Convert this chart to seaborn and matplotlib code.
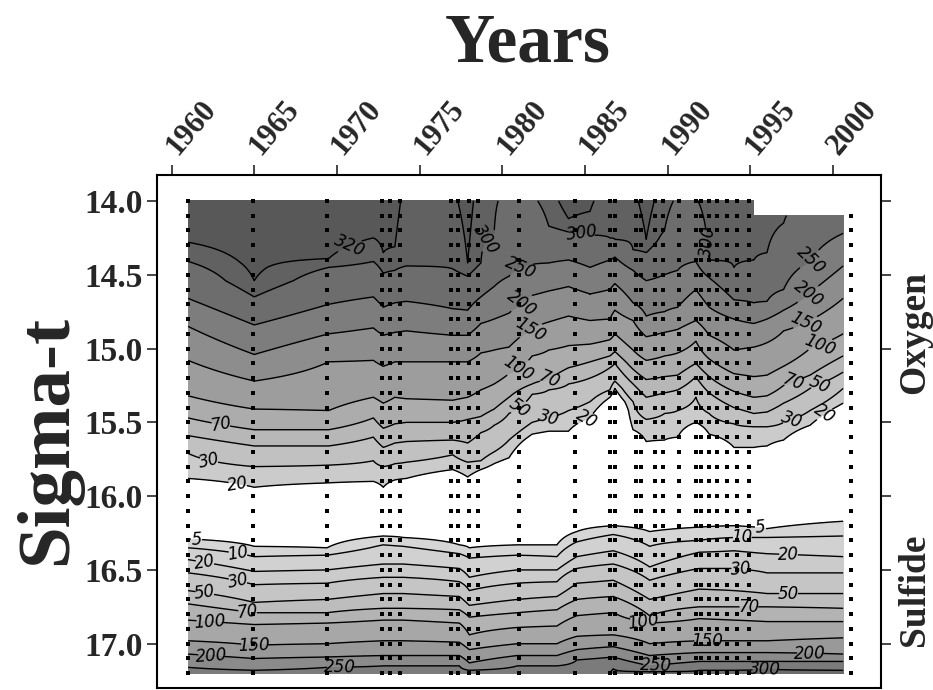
import numpy as np
import pandas as pd
import matplotlib
matplotlib.use("Agg")
import matplotlib.pyplot as plt
import seaborn as sns

nan = np.nan

# ---------------- Oxygen isolines: sigma-t depth of each isoline per year node ----------------
oxy_years = [1961.0, 1965.0, 1969.5, 1972.2, 1972.8, 1973.5, 1974.2, 1977.0, 1977.9, 1978.7,
             1979.5, 1980.4, 1981.8, 1982.8, 1984.0, 1985.3, 1986.5, 1986.8, 1987.9, 1988.7,
             1989.8, 1990.6, 1991.7, 1992.5, 1994.0, 1995.2, 1996.0, 1997.0, 1998.6, 2000.6]
oxy_top_value = [345, 345, 345, 340, 335, 328, 312, 316, 328, 310,
                 303, 292, 295, 310, 330, 322, 312, 312, 315, 328,
                 310, 295, 297, 316, 318, 318, 315, 305, 298, 285]
oxy_top_edge = [14.0] * 26 + [14.1] * 4
oxy_320 = [14.28, 14.54, 14.39, 14.25, 14.35, 14.31, nan, nan, 14.42, nan,
           nan, nan, nan, nan, 14.12, 14.07, nan, nan, nan, 14.26,
           nan, nan, nan, nan, nan, nan, nan, nan, nan, nan]
oxy_300 = [14.41, 14.65, 14.45, 14.41, 14.49, 14.47, 14.44, 14.46, 14.51, 14.42,
           14.22, nan, nan, 14.17, 14.21, 14.23, 14.25, 14.26, 14.33, 14.35,
           14.20, nan, nan, 14.40, 14.45, 14.40, 14.35, 14.15, nan, nan]
oxy_250 = [14.66, 14.84, 14.70, 14.65, 14.72, 14.69, 14.68, 14.73, 14.74, 14.65,
           14.58, 14.51, 14.43, 14.42, 14.40, 14.45, 14.40, 14.38, 14.47, 14.54,
           14.50, 14.47, 14.41, 14.52, 14.67, 14.69, 14.68, 14.60, 14.41, 14.22]
oxy_200 = [14.85, 15.04, 14.90, 14.86, 14.91, 14.89, 14.88, 14.91, 14.91, 14.83,
           14.80, 14.76, 14.64, 14.61, 14.58, 14.63, 14.60, 14.56, 14.69, 14.78,
           14.75, 14.72, 14.60, 14.72, 14.80, 14.83, 14.80, 14.74, 14.62, 14.44]
oxy_150 = [15.08, 15.22, 15.09, 15.08, 15.12, 15.09, 15.09, 15.09, 15.09, 15.03,
           15.01, 14.99, 14.86, 14.82, 14.78, 14.81, 14.80, 14.74, 14.81, 14.92,
           14.89, 14.87, 14.81, 14.91, 15.01, 14.99, 14.96, 14.88, 14.81, 14.66]
oxy_100 = [15.32, 15.41, 15.42, 15.33, 15.37, 15.33, 15.34, 15.35, 15.33, 15.28,
           15.24, 15.17, 15.05, 15.01, 14.98, 14.97, 14.94, 14.90, 15.01, 15.08,
           15.05, 15.03, 14.95, 15.07, 15.17, 15.19, 15.18, 15.12, 15.00, 14.90]
oxy_70 = [15.47, 15.55, 15.55, 15.47, 15.54, 15.51, 15.50, 15.50, 15.48, 15.46,
          15.41, 15.33, 15.24, 15.21, 15.13, 15.09, 15.05, 15.02, 15.14, 15.21,
          15.19, 15.18, 15.10, 15.19, 15.29, 15.33, 15.32, 15.25, 15.18, 15.05]
oxy_50 = [15.59, 15.66, 15.66, 15.60, 15.67, 15.64, 15.63, 15.62, 15.64, 15.57,
          15.52, 15.44, 15.31, 15.28, 15.24, 15.20, 15.13, 15.10, 15.24, 15.33,
          15.30, 15.28, 15.19, 15.30, 15.40, 15.44, 15.43, 15.37, 15.27, 15.16]
oxy_30 = [15.71, 15.80, 15.79, 15.76, 15.80, 15.78, 15.77, 15.72, 15.77, 15.76,
          15.70, 15.62, 15.50, 15.47, 15.42, 15.36, 15.28, 15.22, 15.36, 15.48,
          15.44, 15.42, 15.33, 15.44, 15.51, 15.53, 15.53, 15.50, 15.42, 15.27]
oxy_20 = [15.88, 15.94, 15.91, 15.90, 15.94, 15.89, 15.88, 15.82, 15.87, 15.82,
          15.78, 15.74, 15.58, 15.56, 15.56, 15.47, 15.33, 15.27, 15.55, 15.63,
          15.62, 15.60, 15.50, 15.58, 15.67, 15.67, 15.66, 15.62, 15.52, 15.37]

# ---------------- Sulfide isolines ----------------
sul_years = [1961.0, 1965.0, 1969.4, 1972.8, 1974.0, 1977.4, 1978.0, 1980.9, 1983.3, 1984.5,
             1986.7, 1988.9, 1991.9, 1994.0, 1996.0, 2000.6]
sul_5 = [16.29, 16.34, 16.35, 16.27, 16.28, 16.33, 16.35, 16.33, 16.33, 16.24,
         16.20, 16.24, 16.21, 16.20, 16.22, 16.17]
sul_10 = [16.35, 16.41, 16.40, 16.33, 16.34, 16.39, 16.42, 16.40, 16.41, 16.31,
          16.26, 16.34, 16.30, 16.28, 16.28, 16.27]
sul_20 = [16.43, 16.51, 16.50, 16.46, 16.46, 16.49, 16.55, 16.50, 16.50, 16.41,
          16.37, 16.48, 16.38, 16.37, 16.39, 16.41]
sul_30 = [16.52, 16.60, 16.59, 16.55, 16.55, 16.58, 16.64, 16.59, 16.58, 16.49,
          16.46, 16.57, 16.49, 16.49, 16.52, 16.52]
sul_50 = [16.64, 16.72, 16.70, 16.66, 16.66, 16.68, 16.74, 16.70, 16.68, 16.59,
          16.57, 16.70, 16.63, 16.64, 16.66, 16.66]
sul_70 = [16.73, 16.79, 16.79, 16.76, 16.76, 16.77, 16.82, 16.79, 16.77, 16.70,
          16.68, 16.81, 16.75, 16.75, 16.75, 16.76]
sul_100 = [16.84, 16.87, 16.86, 16.84, 16.84, 16.86, 16.94, 16.89, 16.88, 16.81,
           16.79, 16.86, 16.83, 16.84, 16.85, 16.85]
sul_150 = [16.98, 17.01, 17.00, 16.98, 16.98, 16.99, 17.04, 17.00, 17.00, 16.95,
           16.94, 17.00, 16.98, 16.98, 16.98, 16.96]
sul_200 = [17.07, 17.10, 17.09, 17.08, 17.08, 17.08, 17.13, 17.08, 17.08, 17.04,
           17.02, 17.08, 17.06, 17.06, 17.06, 17.07]
sul_250 = [17.16, 17.18, 17.16, 17.15, 17.15, 17.15, 17.18, 17.15, 17.15, 17.11,
           17.09, 17.15, 17.12, 17.12, 17.12, 17.12]
sul_300 = [nan, nan, nan, nan, nan, nan, nan, nan, nan, nan,
           17.17, 17.19, 17.18, 17.18, 17.17, 17.18]
sul_bottom_value = [280, 280, 280, 280, 280, 280, 280, 280, 280, 280,
                    310, 310, 310, 310, 310, 310]

# ---------------- Sampling casts ----------------
cast_years = [1961.0, 1964.9, 1969.4, 1972.7, 1973.2, 1973.8, 1976.9, 1977.3, 1978.0, 1978.5,
              1981.0, 1984.4, 1986.5, 1986.8, 1988.1, 1988.4, 1989.2, 1989.7, 1990.7, 1991.7,
              1992.0, 1992.5, 1993.0, 1993.6, 1994.2, 1994.9, 2001.1]
sample_sigma = [14.0, 14.1, 14.2, 14.3, 14.4, 14.5, 14.6, 14.7, 14.8, 14.9, 15.0,
                15.1, 15.2, 15.3, 15.4, 15.5, 15.6, 15.7, 15.8, 15.9, 16.0,
                16.1, 16.2, 16.3, 16.4, 16.5, 16.6, 16.7, 16.8, 16.9, 17.0, 17.1, 17.2]

year_ticks = [1960, 1965, 1970, 1975, 1980, 1985, 1990, 1995, 2000]
sigma_ticks = [14.0, 14.5, 15.0, 15.5, 16.0, 16.5, 17.0]

oxy_levels = [320, 300, 250, 200, 150, 100, 70, 50, 30, 20]
oxy_depths = [oxy_320, oxy_300, oxy_250, oxy_200, oxy_150, oxy_100, oxy_70, oxy_50, oxy_30, oxy_20]
sul_levels = [5, 10, 20, 30, 50, 70, 100, 150, 200, 250, 300]
sul_depths = [sul_5, sul_10, sul_20, sul_30, sul_50, sul_70, sul_100, sul_150, sul_200, sul_250, sul_300]

# ---------------- build gridded fields (column profiles at each year node) ----------------
sig = np.linspace(14.0, 17.2, 1281)

Z_oxy = np.empty((sig.size, len(oxy_years)))
for j in range(len(oxy_years)):
    d, v = [14.0], [oxy_top_value[j]]
    for lev, arr in zip(oxy_levels, oxy_depths):
        if not np.isnan(arr[j]):
            d.append(arr[j]); v.append(lev)
    d.append(oxy_20[j] + 0.15); v.append(0)
    col = np.interp(sig, d, v)
    col[sig < oxy_top_edge[j] - 1e-9] = nan
    Z_oxy[:, j] = col
Z_oxy = np.ma.masked_invalid(Z_oxy)

Z_sul = np.empty((sig.size, len(sul_years)))
for j in range(len(sul_years)):
    d, v = [sul_5[j] - 0.15], [0]
    for lev, arr in zip(sul_levels, sul_depths):
        if not np.isnan(arr[j]):
            d.append(arr[j]); v.append(lev)
    d.append(17.25); v.append(sul_bottom_value[j])
    Z_sul[:, j] = np.interp(sig, d, v)

# ---------------- plot ----------------
sns.set_theme(style="white")
plt.rcParams["font.family"] = ["Liberation Serif", "DejaVu Serif"]

fig = plt.figure(figsize=(9.33, 6.9), dpi=100)
ax = fig.add_axes([157 / 933, 2 / 690, (881 - 157) / 933, (688 - 175) / 690])

oxy_fill_levels = [20, 30, 50, 70, 100, 150, 200, 250, 300, 320, 400]
oxy_colors = ["#cbcbcb", "#c1c1c1", "#b7b7b7", "#acacac", "#9d9d9d",
              "#8d8d8d", "#7d7d7d", "#6d6d6d", "#616161", "#585858"]
sul_fill_levels = [5, 10, 20, 30, 50, 70, 100, 150, 200, 250, 300, 400]
sul_colors = ["#d6d6d6", "#d1d1d1", "#cbcbcb", "#c5c5c5", "#bdbdbd", "#b3b3b3",
              "#a7a7a7", "#999999", "#8b8b8b", "#7b7b7b", "#6b6b6b"]

ax.contourf(oxy_years, sig, Z_oxy, levels=oxy_fill_levels, colors=oxy_colors)
cs_o = ax.contour(oxy_years, sig, Z_oxy, levels=sorted(oxy_levels), colors="black", linewidths=1.0)
ax.contourf(sul_years, sig, Z_sul, levels=sul_fill_levels, colors=sul_colors)
cs_s = ax.contour(sul_years, sig, Z_sul, levels=sul_levels, colors="black", linewidths=1.0)

oxy_label_pos = [(1970.9, 14.34), (1979.3, 14.28), (1984.8, 14.22), (1992.0, 14.28),
                 (1981.2, 14.48), (1998.6, 14.40),
                 (1981.2, 14.70), (1998.4, 14.62),
                 (1981.8, 14.89), (1998.3, 14.82),
                 (1981.0, 15.14), (1999.3, 15.00),
                 (1963.0, 15.50), (1982.9, 15.22), (1997.6, 15.23),
                 (1981.0, 15.40), (1999.1, 15.22),
                 (1962.3, 15.74), (1982.8, 15.47), (1997.5, 15.48),
                 (1964.0, 15.92), (1985.0, 15.46), (1999.5, 15.45)]
sul_label_pos = [(1961.5, 16.30), (1995.6, 16.22),
                 (1964.0, 16.40), (1994.5, 16.27),
                 (1962.0, 16.46), (1997.3, 16.40),
                 (1964.0, 16.58), (1994.4, 16.50),
                 (1962.0, 16.66), (1997.3, 16.66),
                 (1964.6, 16.78), (1994.9, 16.75),
                 (1962.3, 16.85), (1988.5, 16.85),
                 (1965.0, 17.00), (1992.4, 16.98),
                 (1962.4, 17.08), (1998.6, 17.07),
                 (1970.2, 17.16), (1989.3, 17.145),
                 (1995.9, 17.175)]
lab_o = ax.clabel(cs_o, fmt="%d", fontsize=12, manual=oxy_label_pos, inline=True, inline_spacing=2)
lab_s = ax.clabel(cs_s, fmt="%d", fontsize=12, manual=sul_label_pos, inline=True, inline_spacing=2)
for t in list(lab_o) + list(lab_s):
    t.set_fontfamily("DejaVu Sans")
    t.set_fontstyle("italic")
    t.set_color("black")

# sampling dots
rows = []
for cy in cast_years:
    for s in sample_sigma:
        if cy > 2000 and s < 14.1:
            continue
        rows.append({"year": cy, "sigma": s})
dots = pd.DataFrame(rows)
sns.scatterplot(data=dots, x="year", y="sigma", ax=ax, marker="s", s=5,
                color="black", linewidth=0, zorder=6, legend=False)

ax.set_xlim(1959.12, 2002.89)
ax.set_ylim(17.30, 13.824)
ax.set_xlabel("")
ax.set_ylabel("")

ax.set_xticks(year_ticks)
ax.set_xticklabels([str(y) for y in year_ticks])
ax.xaxis.tick_top()
ax.tick_params(axis="x", which="both", top=True, bottom=False, labeltop=True, labelbottom=False,
               direction="out", length=7, width=1.2, pad=10)
for t in ax.get_xticklabels():
    t.set_rotation(50)
    t.set_ha("left")
    t.set_va("center")
    t.set_rotation_mode("anchor")
    t.set_fontsize(22)
    t.set_fontweight("bold")

ax.set_yticks(sigma_ticks)
ax.set_yticklabels([f"{v:.1f}" for v in sigma_ticks])
ax.tick_params(axis="y", which="both", left=True, right=True, labelleft=True, labelright=False,
               direction="out", length=7, width=1.2, pad=3)
for t in ax.get_yticklabels():
    t.set_fontsize(24)
    t.set_fontweight("bold")

for sp in ax.spines.values():
    sp.set_visible(True)
    sp.set_color("black")
    sp.set_linewidth(1.5)
ax.grid(False)

fig.text(528 / 933, 1 - 62 / 690, "Years", ha="center", va="baseline",
         fontsize=50, fontweight="bold")
fig.text(48 / 933, 1 - 440 / 690, "Sigma-t", ha="center", va="center", rotation=90,
         fontsize=54, fontweight="bold")
fig.text(915 / 933, 1 - 332 / 690, "Oxygen", ha="center", va="center", rotation=90,
         fontsize=27, fontweight="bold")
fig.text(915 / 933, 1 - 590 / 690, "Sulfide", ha="center", va="center", rotation=90,
         fontsize=27, fontweight="bold")

fig.savefig("out.png", dpi=100)
